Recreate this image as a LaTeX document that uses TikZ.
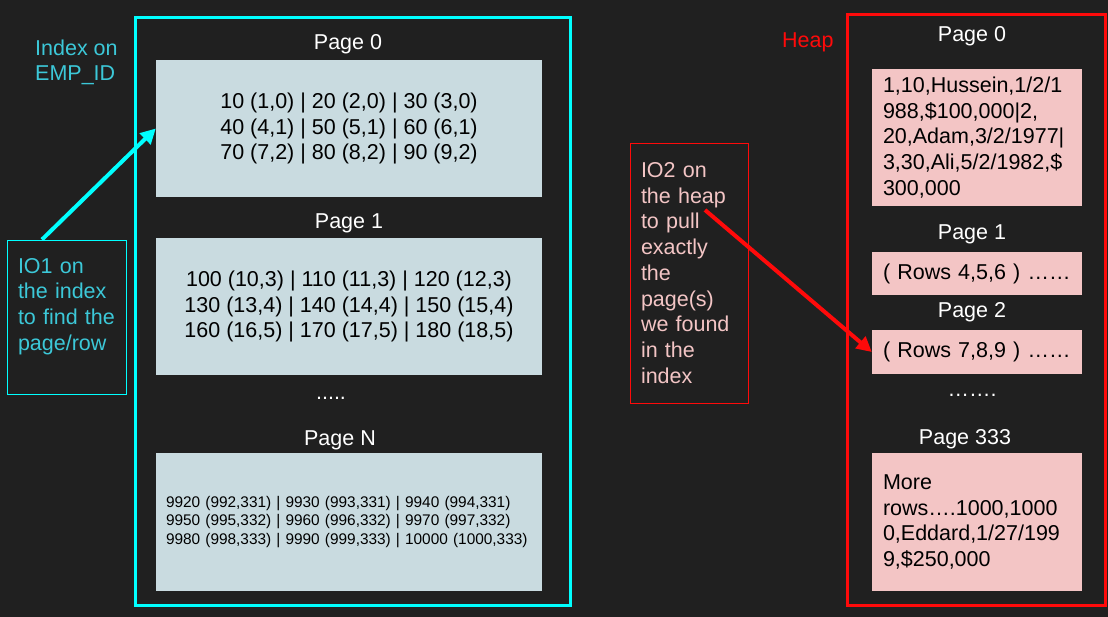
\documentclass[tikz,border=0pt]{standalone}
\usepackage{fontspec}
\setmainfont{Liberation Sans}
\usetikzlibrary{arrows.meta,calc}

\definecolor{bgdark}{HTML}{202020}
\definecolor{idxcyan}{HTML}{00FFFF}
\definecolor{idxtext}{HTML}{3CC8D8}
\definecolor{idxfill}{HTML}{C9DBE0}
\definecolor{heapred}{HTML}{FF0A0A}
\definecolor{heapfill}{HTML}{F3C5C5}

\tikzset{
  big/.style={font=\fontsize{21.5}{25.7}\selectfont},
  small/.style={font=\fontsize{15.4}{18.4}\selectfont},
  pagelabel/.style={big, text=white, inner sep=0pt, yshift=-2pt},
  idxpage/.style={fill=idxfill, draw=none, minimum width=386pt, inner sep=0pt, text=black},
  heappage/.style={fill=heapfill, draw=none, minimum width=210pt, text width=188pt,
    inner xsep=11pt, inner ysep=0pt, align=left, text=black, big},
  note/.style={big, align=left, inner ysep=0pt, inner xsep=11pt},
  bigarrow/.style={line width=4pt, -{Triangle[length=15pt,width=15pt]}},
}

\begin{document}
\begin{tikzpicture}[x=1pt, y=-1pt]
  % canvas
  \fill[bgdark] (0,0) rectangle (1108,617);
  \useasboundingbox (0,0) rectangle (1108,617);

  % ---------- index side ----------
  \draw[idxcyan, line width=3pt] (135,18) rectangle (570,605);
  \node[big, text=idxtext, align=left, inner sep=0pt, anchor=west] (idxlabel) at (35,62.5)
    {Index on\\EMP\_ID};

  \node[pagelabel] (ip0lbl) at (348,42) {Page 0};
  \node[idxpage, minimum height=137pt, big, align=center] (ip0) at (349,128.5)
    {10 (1,0) | 20 (2,0) | 30 (3,0)\\40 (4,1) | 50 (5,1) | 60 (6,1)\\70 (7,2) | 80 (8,2) | 90 (9,2)};

  \node[pagelabel] (ip1lbl) at (349,221) {Page 1};
  \node[idxpage, minimum height=137pt, big, align=center] (ip1) at (349,306.5)
    {100 (10,3) | 110 (11,3) | 120 (12,3)\\130 (13,4) | 140 (14,4) | 150 (15,4)\\160 (16,5) | 170 (17,5) | 180 (18,5)};

  \node[pagelabel] (idxdots) at (331,396) {.....};

  \node[pagelabel] (ipNlbl) at (340,438) {Page N};
  \node[idxpage, minimum height=138pt, small, text width=366pt, inner xsep=10pt, align=left] (ipN) at (349,522)
    {9920 (992,331) | 9930 (993,331) | 9940 (994,331)\\9950 (995,332) | 9960 (996,332) | 9970 (997,332)\\9980 (998,333) | 9990 (999,333) | 10000 (1000,333)};

  % first I/O: index lookup
  \node[note, draw=idxcyan, line width=0.8pt, text=idxtext, minimum width=119pt, text width=97pt,
        minimum height=154pt] (io1) at (66.5,317)
    {IO1 on\\the index\\to find the\\page/row\\\mbox{}};
  \draw[bigarrow, idxcyan] ($(io1.north west)!0.295!(io1.north east)$) -- (ip0.west);

  % ---------- heap side ----------
  \draw[heapred, line width=3pt] (847,15) rectangle (1105,605);
  \node[big, text=heapred, inner sep=0pt, anchor=west, yshift=-2pt] (heaplabel) at (782,40) {Heap};

  \node[pagelabel] (hp0lbl) at (972,34) {Page 0};
  \node[heappage, minimum height=137pt] (hp0) at (977,137.5)
    {1,10,Hussein,1/2/1\\988,\$100,000|2,\\20,Adam,3/2/1977|\\3,30,Ali,5/2/1982,\$\\300,000};

  \node[pagelabel] (hp1lbl) at (972,232) {Page 1};
  \node[heappage, minimum height=43pt] (hp1) at (977,273.5) {( Rows 4,5,6 ) ……};

  \node[pagelabel] (hp2lbl) at (972,310) {Page 2};
  \node[heappage, minimum height=44pt] (hp2) at (977,352) {( Rows 7,8,9 ) ……};

  \node[pagelabel] (heapdots) at (972,393) {…….};

  \node[pagelabel] (hp333lbl) at (965,437) {Page 333};
  \node[heappage, minimum height=138pt] (hp333) at (977,522)
    {More\\rows….1000,1000\\0,Eddard,1/27/199\\9,\$250,000};

  % second I/O: heap fetch
  \node[note, draw=heapred, line width=0.8pt, text=heapfill, minimum width=118pt, text width=96pt,
        minimum height=260pt] (io2) at (689,273)
    {IO2 on\\the heap\\to pull\\exactly\\the\\page(s)\\we found\\in the\\index};
  \coordinate (io2start) at (705,210);
  \draw[bigarrow, heapred] (io2start) -- (hp2.west);
\end{tikzpicture}
\end{document}
